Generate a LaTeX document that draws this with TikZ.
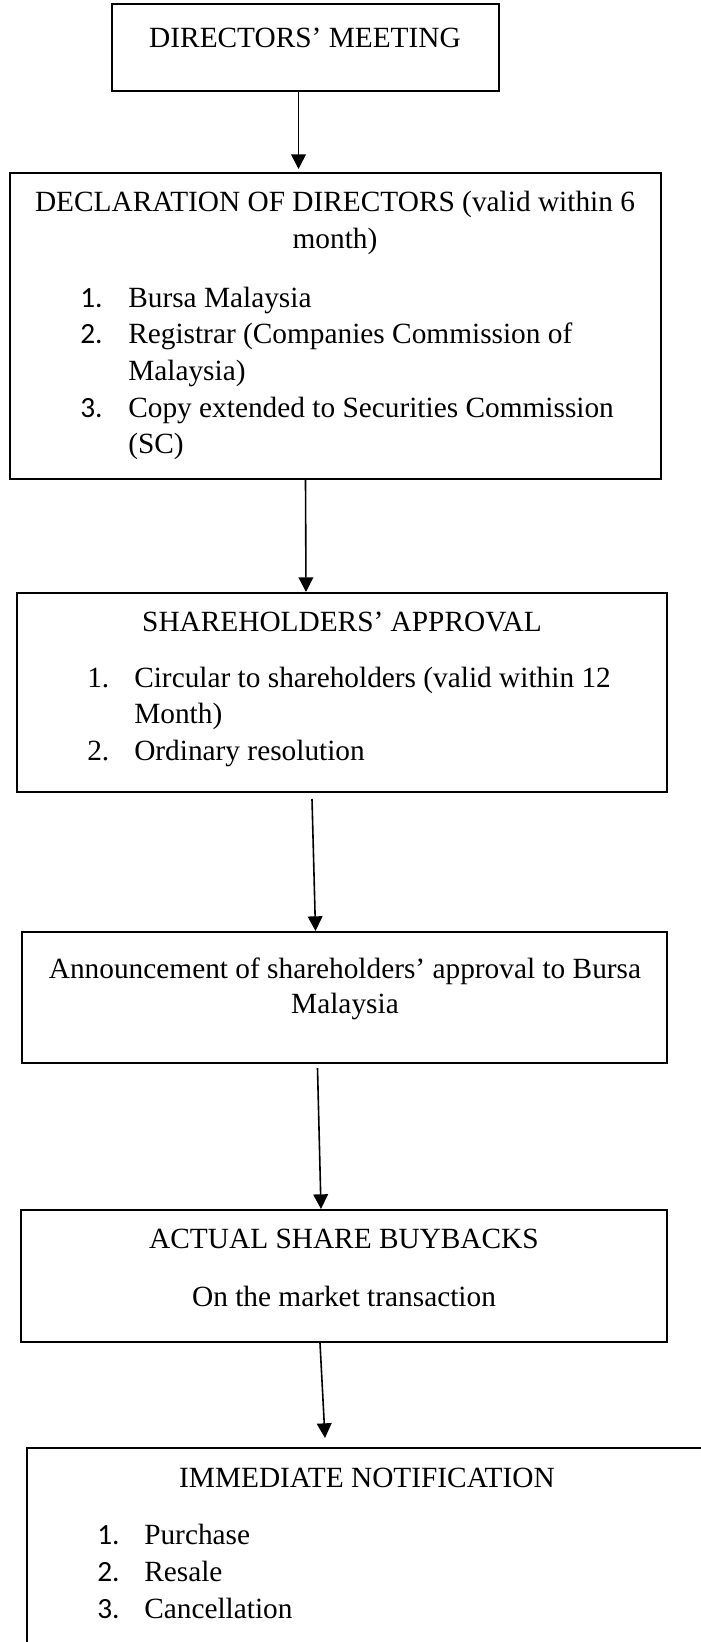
\documentclass[tikz,border=0pt]{standalone}
\usepackage{fontspec}
\setmainfont{Liberation Serif}
\newfontfamily\numfont{Carlito}
\usetikzlibrary{calc, positioning, arrows.meta, fit}

\tikzset{
  box/.style={draw, line width=1.5pt, inner sep=0pt},
  txt/.style={anchor=base, inner sep=0pt},
  itm/.style={anchor=base west, inner sep=0pt},
  num/.style={itm, font=\numfont\fontsize{22}{27}\selectfont},
  arr/.style={-{Triangle[width=11pt, length=11pt]}, line width=1.2pt}
}

\begin{document}
\begin{tikzpicture}[x=0.75pt, y=-0.75pt, font=\fontsize{22}{27}\selectfont]
  \useasboundingbox (0,0) rectangle (700,1642);

  % Boxes
  \node[box, fit={(112,4) (499,91)}] (meet) {};
  \node[box, fit={(10,173) (661,479)}] (decl) {};
  \node[box, fit={(17,593) (667,792)}] (share) {};
  \node[box, fit={(22,932) (667,1063)}] (announce) {};
  \node[box, fit={(21,1210) (667,1342)}] (buyback) {};
  \node[box, fit={(27,1448) (707,1670)}] (notify) {};

  % Directors' meeting
  \node[txt] (meet-t) at (305,47) {DIRECTORS’ MEETING};

  % Declaration of directors
  \node[txt] (decl-t1) at (335,211) {DECLARATION OF DIRECTORS (valid within 6};
  \node[txt] (decl-t2) at (335,248) {month)};
  \foreach \n/\y/\t in {1/307/Bursa Malaysia, 2/343/Registrar (Companies Commission of, 3/417/Copy extended to Securities Commission} {
    \node[num] (decl-n\n) at (80,\y) {\n.};
    \node[itm] (decl-i\n) at (128,\y) {\t};
  }
  \node[itm] (decl-i2b) at (128,380) {Malaysia)};
  \node[itm] (decl-i3b) at (128,453) {(SC)};

  % Shareholders' approval
  \node[txt] (share-t) at (342,631) {SHAREHOLDERS’ APPROVAL};
  \node[itm] (share-n1) at (87,687) {1.};
  \node[itm] (share-i1) at (134,687) {Circular to shareholders (valid within 12};
  \node[itm] (share-i1b) at (134,723) {Month)};
  \node[itm] (share-n2) at (87,760) {2.};
  \node[itm] (share-i2) at (134,760) {Ordinary resolution};

  % Announcement
  \node[txt] (announce-t1) at (345,978) {Announcement of shareholders’ approval to Bursa};
  \node[txt] (announce-t2) at (345,1013) {Malaysia};

  % Actual buybacks
  \node[txt] (buyback-t1) at (344,1248) {ACTUAL SHARE BUYBACKS};
  \node[txt] (buyback-t2) at (344,1306) {On the market transaction};

  % Immediate notification
  \node[txt] (notify-t) at (367,1487) {IMMEDIATE NOTIFICATION};
  \foreach \n/\y/\t in {1/1544/Purchase, 2/1581/Resale, 3/1618/Cancellation} {
    \node[num] (notify-n\n) at (97,\y) {\n.};
    \node[itm] (notify-i\n) at (144,\y) {\t};
  }

  % Arrows
  \draw[arr] ($(meet.south)+(-7,0)$) -- ($(decl.north)+(-37,-3)$);
  \draw[arr] ($(decl.south)+(-30,0)$) -- ($(share.north)+(-36,0)$);
  \draw[arr] ($(share.south)+(-30,6)$) -- ($(announce.north)+(-29,0)$);
  \draw[arr] ($(announce.south)+(-27,4)$) -- ($(buyback.north)+(-23,0)$);
  \draw[arr] ($(buyback.south)+(-24,0)$) -- ($(notify.north)+(-42,-9)$);
\end{tikzpicture}
\end{document}
